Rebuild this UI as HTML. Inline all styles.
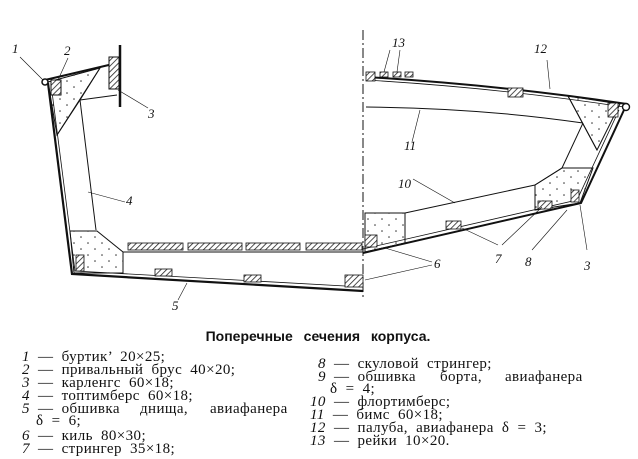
<!DOCTYPE html>
<html><head><meta charset="utf-8"><style>
body{margin:0;background:#fff;}
svg{display:block}
text{font-family:"Liberation Serif",serif;fill:#111}
.n{font-style:italic;font-size:13px}
.l{font-size:15px;letter-spacing:0.4px;word-spacing:4px}
</style></head><body>
<svg width="638" height="459" viewBox="0 0 638 459" xmlns="http://www.w3.org/2000/svg">
<defs>
<pattern id="h" width="4" height="4" patternUnits="userSpaceOnUse" patternTransform="rotate(45)"><rect width="4" height="4" fill="#fff"/><line x1="0" y1="0" x2="0" y2="4" stroke="#222" stroke-width="1.6"/></pattern>
<pattern id="d" width="14" height="12" patternUnits="userSpaceOnUse"><rect width="14" height="12" fill="#fff"/><circle cx="4" cy="3" r="0.8" fill="#333"/><circle cx="11" cy="9" r="0.8" fill="#333"/></pattern>
</defs>
<g stroke="#111" fill="none" stroke-width="1">
<line x1="363" y1="30" x2="363" y2="300" stroke-dasharray="10,3,2,3"/>
<polygon points="48,82 100,68 80,100 57,135" fill="url(#d)"/>
<polygon points="70,231 97,231 123,252 123,273 74,273" fill="url(#d)"/>
<path d="M45,80 L113,64" stroke-width="2"/>
<path d="M48,83 L72,274 L363,291" stroke-width="2.2"/>
<path d="M51,84 L75,271 L363,287" stroke-width="0.8"/>
<circle cx="45" cy="82" r="3" fill="#fff" stroke-width="1.5"/>
<rect x="51" y="80" width="10" height="15" fill="url(#h)"/>
<rect x="109" y="57" width="10" height="32" fill="url(#h)"/>
<line x1="120" y1="45" x2="120" y2="107" stroke-width="2.5"/>
<line x1="57" y1="135" x2="100" y2="68"/>
<line x1="80" y1="100" x2="117" y2="95"/>
<line x1="80" y1="100" x2="96" y2="230"/>
<line x1="123" y1="252" x2="363" y2="252"/>
<line x1="123" y1="252" x2="123" y2="273"/>
<g fill="url(#h)" stroke-width="0.8">
<rect x="128" y="243" width="55" height="7"/><rect x="188" y="243" width="54" height="7"/><rect x="246" y="243" width="54" height="7"/><rect x="306" y="243" width="56" height="7"/>
<rect x="76" y="255" width="8" height="16"/>
<rect x="155" y="269" width="17" height="7"/><rect x="244" y="275" width="17" height="7"/><rect x="345" y="275" width="18" height="12"/>
</g>
<polygon points="568,96 620,104 597,150" fill="url(#d)"/>
<polygon points="562,168 593,168 580,203 535,210 535,185" fill="url(#d)"/>
<polygon points="365,213 405,213 405,243 365,252" fill="url(#d)"/>
<path d="M366,77 Q500,85 627,104" stroke-width="2"/>
<path d="M366,80 Q500,88 624,107" stroke-width="0.8"/>
<circle cx="626" cy="107" r="3.5" fill="#fff" stroke-width="1.4"/>
<path d="M624,110 L581,203 L363,253" stroke-width="2"/>
<path d="M619,110 L577,200 L363,249" stroke-width="0.8"/>
<path d="M366,107 Q480,108 583,123"/>
<line x1="568" y1="96" x2="597" y2="150"/>
<path d="M583,123 L562,168 L535,185 L535,210"/>
<line x1="562" y1="168" x2="593" y2="168"/>
<line x1="405" y1="213" x2="535" y2="185"/>
<g fill="url(#h)" stroke-width="0.8">
<rect x="366" y="72" width="9" height="9"/><rect x="380" y="72" width="8" height="5"/><rect x="393" y="72" width="8" height="5"/><rect x="405" y="72" width="8" height="5"/>
<rect x="508" y="88" width="15" height="9"/><rect x="608" y="103" width="10" height="14"/>
<rect x="446" y="221" width="15" height="8"/><rect x="538" y="201" width="14" height="8"/><rect x="571" y="190" width="8" height="12"/>
<rect x="365" y="235" width="12" height="12"/>
</g>
<g stroke-width="0.6">
<line x1="20" y1="57" x2="43" y2="80"/><line x1="68" y1="58" x2="58" y2="80"/><line x1="118" y1="90" x2="148" y2="108"/>
<line x1="88" y1="192" x2="125" y2="202"/><line x1="187" y1="283" x2="178" y2="300"/>
<line x1="390" y1="50" x2="384" y2="72"/><line x1="400" y1="50" x2="397" y2="72"/>
<line x1="547" y1="60" x2="550" y2="89"/><line x1="420" y1="110" x2="412" y2="142"/>
<line x1="413" y1="179" x2="455" y2="203"/><line x1="462" y1="228" x2="498" y2="245"/><line x1="542" y1="207" x2="502" y2="245"/>
<line x1="567" y1="210" x2="532" y2="250"/><line x1="580" y1="205" x2="587" y2="250"/>
<line x1="385" y1="248" x2="432" y2="262"/><line x1="365" y1="280" x2="432" y2="265"/>
</g>
</g>
<g class="n">
<text x="12" y="53">1</text><text x="64" y="55">2</text><text x="148" y="118">3</text><text x="126" y="205">4</text><text x="172" y="310">5</text>
<text x="392" y="47">13</text><text x="534" y="53">12</text><text x="404" y="150">11</text><text x="398" y="188">10</text>
<text x="495" y="263">7</text><text x="525" y="266">8</text><text x="584" y="270">3</text><text x="434" y="268">6</text>
</g>
<text x="318" y="341" text-anchor="middle" style="font-family:'Liberation Sans',sans-serif;font-weight:bold;font-size:14px;word-spacing:7px">Поперечные сечения корпуса.</text>
<g class="l">
<text x="22" y="361"><tspan font-style="italic">1</tspan> — буртик’ 20×25;</text>
<text x="22" y="374"><tspan font-style="italic">2</tspan> — привальный брус 40×20;</text>
<text x="22" y="387"><tspan font-style="italic">3</tspan> — карленгс 60×18;</text>
<text x="22" y="400"><tspan font-style="italic">4</tspan> — топтимберс 60×18;</text>
<text x="22" y="413"><tspan font-style="italic">5</tspan> — обшивка<tspan x="140">днища,</tspan><tspan x="210">авиафанера</tspan></text>
<text x="36" y="425">δ = 6;</text>
<text x="22" y="440"><tspan font-style="italic">6</tspan> — киль 80×30;</text>
<text x="22" y="453"><tspan font-style="italic">7</tspan> — стрингер 35×18;</text>
<text x="318" y="368"><tspan font-style="italic">8</tspan> — скуловой стрингер;</text>
<text x="318" y="381"><tspan font-style="italic">9</tspan> — обшивка<tspan x="440">борта,</tspan><tspan x="505">авиафанера</tspan></text>
<text x="330" y="393">δ = 4;</text>
<text x="310" y="406"><tspan font-style="italic">10</tspan> — флортимберс;</text>
<text x="310" y="419"><tspan font-style="italic">11</tspan> — бимс 60×18;</text>
<text x="310" y="432"><tspan font-style="italic">12</tspan> — палуба, авиафанера δ = 3;</text>
<text x="310" y="445"><tspan font-style="italic">13</tspan> — рейки 10×20.</text>
</g>
</svg>
</body></html>
